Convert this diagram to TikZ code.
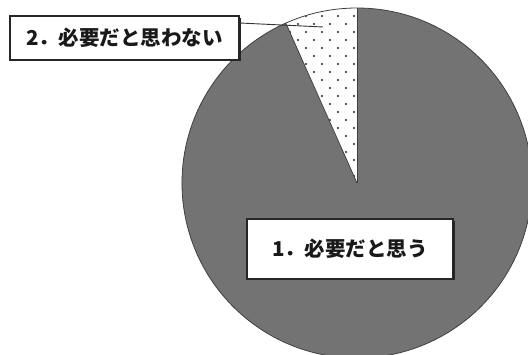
\documentclass[tikz,border=0pt]{standalone}
\usepackage{fontspec}
\newfontfamily\cjk{Noto Sans CJK JP}
\begin{document}
\begin{tikzpicture}[x=1pt,y=1pt,
  piefill/.style={fill=black!55},
  pieline/.style={draw=black!75,line width=0.8pt},
  labelbox/.style={draw=black!85,line width=1.4pt,fill=white,inner sep=0pt,
    font=\cjk\bfseries\fontsize{20.5}{22}\selectfont,text=black!90},
  shadowbox/.style={fill=black!85,inner sep=0pt},
  leader/.style={draw=black!80,line width=0.9pt}]
\useasboundingbox (0,0) rectangle (528,355);
\coordinate (c) at (357,172);
% main slice
\fill[piefill] (c) -- ++(114:175) arc[start angle=114,end angle=450,radius=175] -- cycle;
% small slice
\fill[white] (c) -- ++(90:175) arc[start angle=90,end angle=114,radius=175] -- cycle;
\begin{scope}
  \clip (c) -- ++(90:175) arc[start angle=90,end angle=114,radius=175] -- cycle;
  \foreach \i in {0,...,22}{
    \pgfmathsetmacro{\yy}{347-8*\i}
    \pgfmathsetmacro{\off}{mod(\i,2)*8}
    \foreach \j in {0,...,5}{
      \fill[black!85] ({282+\off+16*\j},\yy) circle[radius=1.1];
    }
  }
\end{scope}
\draw[pieline] (c) circle[radius=175];
\draw[pieline] (c) -- ++(90:175);
\draw[pieline] (c) -- ++(114:175);
% label boxes
\fill[black!85] (11.5,293.5) rectangle (240.5,337);
\node[labelbox,minimum width=229,minimum height=44] (b2) at (124.5,317) {2．必要だと思わない};
\coordinate (l2) at (323,328);
\draw[leader] (b2.east |- 0,332) -- (l2);
\fill[black!85] (248.5,74.5) rectangle (454.5,134);
\node[labelbox,minimum width=206,minimum height=60] (b1) at (350,106) {1．必要だと思う};
\end{tikzpicture}
\end{document}
